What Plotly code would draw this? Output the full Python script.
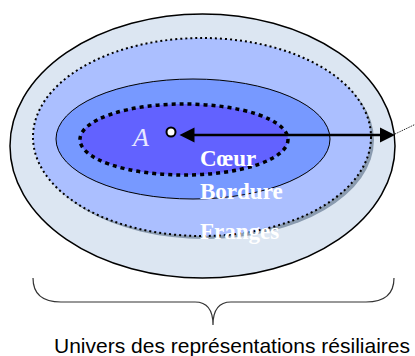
import plotly.graph_objects as go

# Nested zones (outer to inner)
zone_names = ["Univers", "Franges", "Bordure", "Cœur"]
zone_cx = [202.5, 202, 193, 184]
zone_cy = [146, 137, 139, 139.5]
zone_rx = [192.5, 169, 137, 104]
zone_ry = [132, 99, 60, 35.5]
zone_fill = ["#DCE6F2", "#ABBFFF", "#7799FF", "#6262FF"]
zone_line_color = ["#000000", "#000000", "#000000", "#000000"]
zone_line_width = [1.5, 2, 1, 3.5]
zone_dash = ["solid", "2px,3px", "solid", "4px,4px"]

# Labels
label_texts = ["Cœur", "Bordure", "Franges"]
label_x = [198, 198, 198]
label_y = [158, 191, 231]

point_A = (171, 132)
arrow_end_x = 395
arrow_y = 135
bottom_text = "Univers des représentations résiliaires"

W, H = 415, 356
fig = go.Figure()
shapes = []

# shadow of the franges zone
shapes.append(dict(type="circle", xref="x", yref="y",
                   x0=zone_cx[1] - zone_rx[1] + 3, x1=zone_cx[1] + zone_rx[1] + 3,
                   y0=zone_cy[1] - zone_ry[1] + 3, y1=zone_cy[1] + zone_ry[1] + 3,
                   fillcolor="#8A9BB0", line=dict(width=0), layer="above"))

for i in range(len(zone_names)):
    sh = dict(type="circle", xref="x", yref="y",
              x0=zone_cx[i] - zone_rx[i], x1=zone_cx[i] + zone_rx[i],
              y0=zone_cy[i] - zone_ry[i], y1=zone_cy[i] + zone_ry[i],
              fillcolor=zone_fill[i],
              line=dict(color=zone_line_color[i], width=zone_line_width[i], dash=zone_dash[i]),
              layer="above")
    if i == 0:
        shapes.insert(0, sh)
    else:
        shapes.append(sh)

# thin dotted continuation line
shapes.append(dict(type="line", xref="x", yref="y", x0=arrow_end_x, y0=arrow_y - 1,
                   x1=418, y1=arrow_y - 12, line=dict(color="#000", width=1, dash="1px,1px"),
                   layer="above"))

# point A
r = 4.5
shapes.append(dict(type="circle", xref="x", yref="y",
                   x0=point_A[0] - r, x1=point_A[0] + r, y0=point_A[1] - r, y1=point_A[1] + r,
                   fillcolor="white", line=dict(color="black", width=2), layer="above"))

# brace
bx0, bx1, by_top, by_mid, bx_tip, by_tip = 33, 394, 278, 302, 213, 325
brace = (f"M {bx0},{by_top} Q {bx0},{by_mid} {bx0+28},{by_mid} "
         f"L {bx_tip-18},{by_mid} Q {bx_tip},{by_mid} {bx_tip},{by_tip} "
         f"Q {bx_tip},{by_mid} {bx_tip+18},{by_mid} "
         f"L {bx1-28},{by_mid} Q {bx1},{by_mid} {bx1},{by_top}")
shapes.append(dict(type="path", xref="x", yref="y", path=brace,
                   line=dict(color="#333", width=1.2), layer="above"))

annotations = []
# double-headed arrow
annotations.append(dict(x=arrow_end_x, y=arrow_y, ax=point_A[0] + 7, ay=arrow_y,
                        xref="x", yref="y", axref="x", ayref="y", text="",
                        showarrow=True, arrowhead=2, startarrowhead=2, arrowside="end+start",
                        arrowsize=1.2, startarrowsize=1.2, arrowwidth=2.5, arrowcolor="black"))

annotations.append(dict(x=140, y=137, xref="x", yref="y", text="<i>A</i>", showarrow=False,
                        font=dict(family="Liberation Serif", size=26, color="#E8E8FF"),
                        xanchor="center", yanchor="middle"))

for t, x, y in zip(label_texts, label_x, label_y):
    annotations.append(dict(x=x, y=y, xref="x", yref="y", text=f"<b>{t}</b>", showarrow=False,
                            font=dict(family="Liberation Serif", size=23, color="white"),
                            xanchor="left", yanchor="middle"))

annotations.append(dict(x=232, y=345, xref="x", yref="y", text=bottom_text, showarrow=False,
                        font=dict(family="Liberation Sans", size=21, color="black"),
                        xanchor="center", yanchor="middle"))

fig.update_layout(
    width=W, height=H, margin=dict(l=0, r=0, t=0, b=0),
    paper_bgcolor="white", plot_bgcolor="white",
    xaxis=dict(range=[0, W], visible=False, fixedrange=True),
    yaxis=dict(range=[H, 0], visible=False, fixedrange=True),
    shapes=shapes, annotations=annotations, showlegend=False,
)

fig.write_html("out.html", config={"displayModeBar": False},
               post_script="document.body.style.margin='0';")
